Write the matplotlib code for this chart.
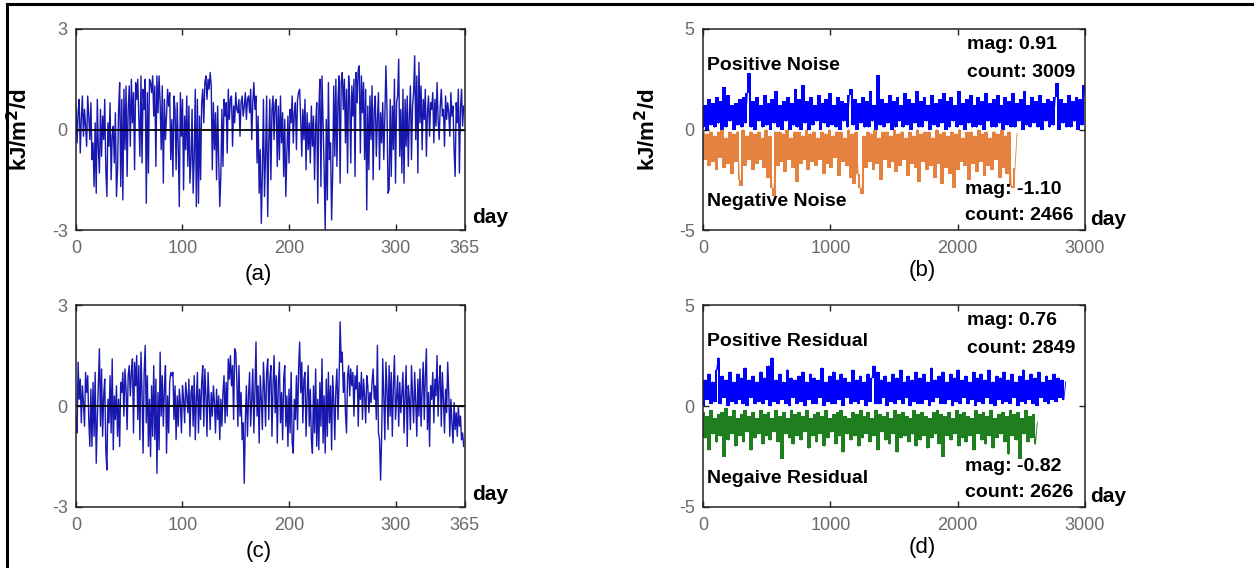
import numpy as np
import matplotlib.pyplot as plt
from matplotlib.lines import Line2D

plt.rcParams['font.family'] = ['Liberation Sans', 'DejaVu Sans']
plt.rcParams['axes.unicode_minus'] = False

# (a) daily noise, one year
noise_year = [
    0.7, -0.4, 0.5, 0.9, -0.7, 0.3, 1.0, -0.2, 0.6, 0.1,
    -0.5, 1.0, 0.4, -0.3, 0.8, -0.9, -0.4, -1.7, 0.2, -1.9,
    0.9, -0.6, -1.3, 0.6, -0.8, 0.4, -0.3, 0.9, -1.2, -2.0,
    0.2, -0.5, 0.8, -1.5, -0.2, 0.1, -1.0, 0.5, -2.0, -1.2,
    0.6, 1.4, -1.7, 0.9, -2.1, 1.2, -0.6, 1.3, -1.4, 0.6,
    1.3, -0.5, 1.5, 0.2, 1.1, -1.2, 1.4, 0.9, 1.5, 0.3,
    -0.8, 1.6, -1.0, 1.2, 0.6, 1.5, -2.2, 1.1, -1.3, 1.5,
    1.4, 1.1, 1.6, 0.4, 1.3, -1.1, 1.6, 0.5, 1.6, 0.8,
    -0.6, 1.3, -1.6, 0.9, -0.3, 0.4, 1.2, 0.7, 1.1, -0.9,
    0.3, -1.4, 1.0, 0.6, -1.2, 0.8, -0.5, -2.3, 1.1, -0.2,
    0.9, -1.8, 0.4, -0.6, 1.0, -1.1, 0.7, -1.6, -0.9, 0.6,
    -1.9, -0.8, 1.2, -2.3, 0.9, -2.2, 0.4, -1.5, 0.8, 1.2,
    0.2, 1.4, 1.6, 0.9, 1.5, 1.2, 1.7, 1.3, -1.2, 0.8,
    -0.6, 0.5, -1.5, 0.7, -0.9, -2.3, -1.4, 0.6, -1.1, 0.9,
    0.4, 0.8, -0.7, 1.2, 0.3, 0.9, 1.0, -0.5, 0.7, 0.2,
    1.1, 0.6, 0.5, 0.9, -0.2, 0.8, 1.0, 0.4, 0.7, 1.1,
    0.3, 0.9, 1.0, 0.5, 1.2, -0.3, 0.8, 1.4, 0.6, 1.0,
    -1.0, 0.4, -1.9, -0.6, -2.8, -1.3, 0.9, -2.0, -0.8, 1.0,
    -2.6, -0.4, 0.9, -1.5, 0.6, 1.0, -0.3, 0.8, 0.9, -1.1,
    0.7, -0.9, 1.0, -0.4, 0.5, -1.4, 0.3, -2.0, -0.7, 0.4,
    -1.0, 0.6, 0.2, 1.0, -0.4, 0.5, 0.8, -0.6, 0.9, 1.1,
    1.2, 0.3, -0.8, 0.6, -0.3, 0.9, -1.2, 0.5, -0.6, 0.2,
    -1.0, 0.7, -0.5, 0.4, -1.5, 0.1, 0.8, -2.2, 0.6, 1.5,
    -1.7, 1.6, 0.2, -1.2, -3.0, 0.3, -2.1, 1.4, -0.9, -0.4,
    -2.7, -1.3, 1.3, -0.8, 1.5, -1.1, 0.9, 1.6, -1.6, 1.4,
    1.7, 0.6, 1.5, -0.4, 1.2, -1.3, 1.6, 0.9, -1.0, 1.3,
    0.4, 1.5, -1.4, 1.7, 0.8, 1.8, 1.9, -0.7, 1.6, 0.5,
    1.4, -0.9, 1.2, -2.4, 0.7, -1.2, 1.0, -0.3, 1.3, -1.5,
    0.6, 1.0, -0.8, 0.3, 1.1, -1.2, 0.5, -0.4, 0.8, -0.9,
    0.4, 1.9, 0.6, -1.9, -1.8, 0.9, -1.4, 0.7, -0.6, 1.5,
    -1.6, 0.8, 1.0, 2.1, -0.8, 0.6, -1.3, 1.2, -1.6, 0.9,
    -0.5, 1.0, -1.1, 0.4, 1.3, -0.9, 0.7, 1.1, 2.2, -0.3,
    1.6, -1.3, 2.0, 0.2, 1.3, -0.6, 0.9, 0.3, 1.2, -0.8,
    0.5, 1.0, -0.2, 0.8, 0.6, 1.1, -0.4, 0.9, 0.1, 1.4,
    0.3, -0.3, 0.7, 1.2, 0.4, 0.6, -0.5, 1.0, 0.3, 0.8,
    0.5, -0.2, 1.1, 0.4, 0.7, -0.6, -1.4, 0.8, 0.2, 1.2,
    -1.3, 0.6, 1.2, 0.1, 0.7,
]

# (c) daily residual, one year
resid_year = [
    -0.3, -0.8, 1.3, 0.2, 0.8, -0.5, 0.6, 0.1, -0.6, 1.0,
    0.4, 0.9, -0.4, -1.2, 0.5, -1.2, 0.7, -0.9, 1.0, -1.7,
    -0.4, 0.6, 1.7, -0.6, 1.1, -0.9, 0.3, 0.8, -1.3, -1.9,
    0.2, -0.5, 0.9, -0.8, 1.4, -1.3, 0.3, -0.4, 0.6, -0.9,
    0.2, -1.2, 0.7, 0.4, 1.0, -0.3, 1.1, 0.5, -0.7, 0.9,
    1.2, 0.3, 1.0, 1.4, -0.8, 1.3, 0.6, 1.5, -0.4, 1.2,
    -1.0, 1.6, 0.4, -1.4, 1.0, 1.8, -0.5, 0.9, -1.2, 0.2,
    -1.5, 0.6, -0.9, 1.2, -1.0, 0.8, -2.0, 0.4, -1.3, 1.6,
    -0.3, 0.9, -0.6, 0.5, 1.2, -1.4, 0.3, -0.8, 0.7, 1.0,
    0.9, 1.0, -0.4, 0.6, -1.0, 0.3, -0.6, 0.5, 0.1, -0.8,
    0.6, 0.2, -0.5, 0.7, 0.3, -0.2, 0.8, -0.9, 0.4, 0.6,
    -0.6, 0.9, -1.0, 0.2, 1.0, -0.8, 0.5, -0.4, 0.7, 1.2,
    -0.6, 1.1, 0.3, -0.9, 1.0, 0.2, -0.7, 0.4, -0.3, 0.6,
    0.1, -0.8, 0.5, -0.4, 0.3, -1.0, 0.2, -0.6, 0.4, 0.9,
    -0.5, 0.7, -0.3, 1.4, 0.8, 1.5, 0.6, 1.2, -0.4, 1.7,
    1.6, 0.8, -0.6, 1.2, -0.3, 0.4, -1.0, -0.5, -2.3, -0.4,
    0.6, -0.9, 0.3, 1.0, -0.6, 0.2, 1.1, -0.8, 0.4, 1.9,
    -0.3, 0.6, -1.1, 0.9, 0.2, -0.7, 1.3, 0.5, -0.6, 1.0,
    1.4, -0.4, 0.8, 1.2, -0.9, 0.6, 1.5, -0.2, 0.9, -1.1,
    0.7, 1.3, -0.5, 0.4, -1.0, 0.8, 1.2, -0.6, 0.3, -1.2,
    0.5, -0.8, 1.0, -1.1, -1.4, 0.2, -0.4, 0.9, -0.7, 1.1,
    1.9, 0.4, 1.3, -0.5, 0.8, 1.0, -0.9, 0.3, 1.2, -0.6,
    0.5, -1.0, -1.4, 0.6, -0.8, 1.1, -1.2, 0.2, -1.3, 0.7,
    -0.6, 1.4, -1.1, 0.3, -1.4, 0.8, -0.9, 1.0, -0.5, 0.6,
    -1.3, 0.9, 0.2, -1.0, 0.5, 1.1, -0.4, 0.7, 2.5, 1.3,
    1.6, 0.4, 1.0, -0.2, -0.8, 0.9, 1.2, 0.3, 1.1, 0.6,
    1.0, -0.3, 0.9, 0.5, 1.2, -0.6, 0.7, 0.2, 1.0, -0.4,
    0.8, 0.3, -0.5, 0.9, 0.6, -0.2, 0.4, 0.1, 0.7, 1.1,
    0.2, 0.6, -0.4, 1.8, -0.8, -1.0, -2.2, -0.9, 1.4, 0.3,
    -1.0, 1.3, 0.5, -0.7, 1.2, -0.3, 1.0, -0.9, 0.6, 1.5,
    -0.4, 0.2, 0.9, -0.6, 0.7, -0.2, 0.4, 1.0, -0.8, 0.3,
    1.2, -1.2, 0.6, 0.2, -0.7, 1.2, 0.3, -0.5, 1.0, 0.1,
    -0.9, 0.8, -0.3, 1.1, -0.6, 0.5, 1.3, -0.4, 0.9, 1.7,
    -0.7, 0.4, -1.2, 0.6, 0.2, 1.0, -0.5, 0.8, 0.3, 1.5,
    -0.3, 0.7, 1.2, -0.6, 1.0, 0.2, -0.8, 0.5, -0.2, 1.3,
    0.4, -0.9, 0.2, -0.5, -1.1, 0.1, -0.7, -0.2, -0.9, 0.0,
    -0.6, -0.3, -1.0, -0.8, -1.2,
]

# (b) positive / negative noise (sampled along the record)
pos_noise = [
    0.1, 1.2, 0.0, 1.5, 0.2, 1.3, 0.1, 1.6, 0.3, 1.4, 0.0, 2.1, 0.1, 1.7, 0.4, 1.2, 0.0, 1.3, 0.2, 1.5,
    0.1, 1.6, 0.3, 1.8, 2.8, 0.1, 1.4, 0.0, 1.6, 0.4, 1.2, 0.1, 1.7, 0.2, 1.3, 0.0, 1.5, 0.3, 1.9, 0.1,
    1.2, 0.0, 1.4, 0.4, 1.6, 0.0, 1.3, 0.2, 2.0, 0.1, 1.5, 0.0, 2.2, 0.3, 1.4, 0.0, 1.6, 0.2, 1.2, 0.4,
    1.7, 0.0, 1.3, 0.3, 1.5, 0.1, 1.8, 0.2, 1.2, 0.1, 1.6, 0.0, 1.4, 0.4, 1.3, 0.1, 1.7, 2.0, 0.2, 1.5,
    0.0, 1.3, 0.3, 1.6, 0.1, 1.4, 0.1, 1.9, 0.4, 1.2, 0.0, 2.7, 0.2, 1.5, 0.1, 1.3, 0.3, 1.7, 0.0, 1.4,
    0.1, 1.6, 0.4, 1.2, 0.1, 1.8, 0.2, 1.5, 0.0, 1.3, 0.3, 1.9, 0.1, 1.4, 0.1, 1.6, 0.4, 1.2, 0.0, 1.7,
    0.2, 1.3, 0.1, 1.5, 0.3, 1.8, 0.0, 1.4, 0.1, 1.6, 0.4, 1.2, 0.1, 1.9, 0.2, 1.3, 0.0, 1.5, 0.3, 1.7,
    0.1, 1.2, 0.1, 1.6, 0.2, 1.4, 0.0, 1.8, 0.4, 1.3, 0.1, 1.5, 0.1, 1.7, 0.3, 1.2, 0.0, 1.6, 0.2, 1.4,
    0.1, 1.8, 0.1, 1.3, 0.4, 1.5, 0.0, 1.9, 0.2, 1.2, 0.1, 1.6, 0.3, 1.4, 0.1, 1.7, 0.0, 1.3, 0.4, 1.5,
    0.1, 1.4, 0.2, 1.6, 2.3, 0.0, 1.5, 0.3, 1.3, 0.1, 1.7, 0.1, 1.4, 0.4, 1.6, 0.0, 1.5, 0.2, 2.2, 1.3,
]
neg_noise = [
    -0.1, -1.5, -0.2, -1.8, -0.1, -1.6, -0.3, -2.0, -0.1, -1.4, -0.0, -1.9, -0.4, -1.7, -0.1, -2.2, -0.2, -1.6, -0.1, -2.5,
    -2.8, -0.0, -1.8, -0.3, -1.5, -0.1, -2.0, -0.2, -1.7, -0.1, -1.5, -0.4, -1.9, -0.0, -2.4, -0.3, -2.9, -3.3, -0.1, -1.8,
    -0.1, -1.6, -0.2, -2.1, -0.0, -1.5, -0.4, -1.9, -0.1, -2.6, -0.1, -1.7, -0.3, -1.5, -0.0, -2.0, -0.2, -1.6, -0.1, -1.8,
    -0.4, -1.5, -0.1, -2.2, -0.2, -1.7, -0.0, -1.9, -0.3, -1.4, -0.1, -2.3, -0.1, -1.6, -0.4, -1.8, -0.0, -2.4, -0.2, -2.7,
    -0.1, -2.2, -2.9, -3.2, -0.3, -1.9, -0.1, -1.6, -0.2, -2.0, -0.0, -1.7, -0.4, -2.5, -0.1, -1.5, -0.1, -1.9, -0.3, -1.6,
    -0.0, -2.1, -0.2, -1.8, -0.1, -1.5, -0.4, -2.3, -0.1, -1.7, -0.3, -1.9, -0.0, -2.6, -0.2, -1.6, -0.1, -2.0, -0.1, -1.8,
    -0.4, -2.4, -0.0, -1.7, -0.2, -2.7, -0.1, -1.9, -0.3, -2.2, -0.1, -2.9, -0.2, -2.0, -0.0, -1.6, -0.4, -1.8, -0.1, -2.5,
    -0.1, -1.7, -0.3, -2.1, -0.0, -1.6, -0.2, -2.3, -0.1, -1.8, -0.4, -2.0, -0.1, -1.5, -0.2, -2.4, -0.0, -1.9, -0.3, -2.2,
    -0.1, -2.8, -2.9, -1.9, -0.2,
]

# (d) positive / negative residual (sampled along the record)
pos_resid = [
    0.0, 1.3, 0.3, 1.6, 0.1, 1.2, 0.2, 1.8, 2.4, 0.1, 1.5, 0.4, 1.3, 0.0, 1.7, 0.2, 1.2, 0.1, 1.6, 0.3,
    1.4, 0.1, 1.9, 0.0, 1.3, 0.4, 1.5, 0.1, 1.2, 0.2, 1.7, 0.1, 1.4, 0.3, 2.0, 0.0, 2.4, 0.2, 1.3, 0.1,
    1.6, 0.3, 1.2, 0.1, 1.8, 0.0, 1.4, 0.4, 1.3, 0.1, 1.5, 0.2, 1.7, 0.0, 1.2, 0.3, 1.6, 0.1, 1.4, 0.1,
    1.3, 0.4, 1.9, 0.0, 1.2, 0.2, 1.5, 0.1, 1.7, 0.1, 1.3, 0.3, 1.6, 0.0, 1.4, 0.4, 1.2, 0.1, 1.8, 0.2,
    1.3, 0.1, 1.5, 0.3, 1.2, 0.0, 1.6, 0.2, 1.4, 2.0, 0.1, 1.7, 0.1, 1.3, 0.4, 1.5, 0.0, 1.2, 0.2, 1.6,
    0.1, 1.4, 0.3, 1.8, 0.1, 1.2, 0.4, 1.5, 0.0, 1.3, 0.2, 1.7, 0.1, 1.4, 0.1, 1.6, 0.3, 1.2, 0.0, 1.9,
    0.2, 1.3, 0.4, 1.5, 0.1, 1.7, 0.1, 1.2, 0.3, 1.6, 0.0, 1.4, 0.2, 1.8, 0.1, 1.3, 0.4, 1.5, 0.1, 1.2,
    0.3, 1.7, 0.0, 1.4, 0.2, 1.6, 0.1, 1.3, 0.4, 1.8, 0.1, 1.2, 0.0, 1.5, 0.3, 1.4, 0.1, 1.7, 0.2, 1.3,
    0.1, 1.6, 0.4, 1.2, 0.0, 1.5, 0.2, 1.8, 0.1, 1.3, 0.3, 1.6, 0.1, 1.4, 0.0, 1.7, 0.4, 1.2, 0.2, 1.5,
    0.1, 1.3, 0.3, 1.6, 0.2, 1.4, 0.4, 1.3, 0.3, 1.2,
]
neg_resid = [
    -0.3, -1.6, -0.5, -2.2, -0.2, -1.4, -0.6, -1.8, -0.4, -1.5, -0.3, -2.5, -0.1, -1.7, -0.5, -1.4, -0.2, -2.0, -0.6, -1.5,
    -0.4, -1.8, -0.2, -1.3, -0.5, -2.2, -0.3, -1.6, -0.6, -1.4, -0.2, -1.9, -0.4, -1.5, -0.3, -1.7, -0.6, -1.3, -0.2, -1.8,
    -0.5, -2.6, -0.3, -1.4, -0.6, -1.6, -0.2, -1.9, -0.4, -1.5, -0.3, -1.7, -0.5, -1.3, -0.2, -2.1, -0.6, -1.5, -0.4, -1.8,
    -0.3, -1.4, -0.5, -2.0, -0.2, -1.6, -0.6, -1.3, -0.4, -1.9, -0.3, -1.5, -0.2, -2.3, -0.5, -1.4, -0.6, -1.7, -0.3, -1.5,
    -0.4, -2.0, -0.2, -1.6, -0.5, -1.4, -0.3, -1.8, -0.6, -1.5, -0.2, -2.2, -0.4, -1.3, -0.5, -1.7, -0.3, -1.9, -0.6, -1.4,
    -0.2, -2.3, -0.4, -1.6, -0.3, -1.5, -0.5, -1.8, -0.6, -1.4, -0.2, -2.0, -0.4, -1.7, -0.3, -1.5, -0.5, -2.1, -0.6, -1.6,
    -0.3, -1.4, -0.2, -1.9, -0.4, -2.5, -0.5, -1.5, -0.3, -1.7, -0.6, -1.4, -0.2, -2.0, -0.4, -1.6, -0.3, -1.8, -0.5, -1.5,
    -0.6, -2.2, -0.2, -1.4, -0.4, -1.7, -0.3, -1.9, -0.5, -1.5, -0.2, -2.1, -0.6, -1.6, -0.4, -1.4, -0.3, -1.8, -0.5, -2.4,
    -0.2, -1.5, -0.4, -1.7, -0.3, -2.6, -0.6, -1.4, -0.2, -1.8, -0.5, -1.6, -0.4, -1.9, -0.8,
]

counts_b = [3009, 2466]
mags_b = [0.91, -1.10]
counts_d = [2849, 2626]
mags_d = [0.76, -0.82]

year_ticks = [0, 100, 200, 300, 365]
long_ticks = [0, 1000, 2000, 3000]

LINE_BLUE = '#1818b0'
BAND_BLUE = '#0000ff'
ORANGE = '#e5823f'
GREEN = '#1f7f1f'
TICK_GRAY = '#6a6a6a'


def style_axes(ax, xlim, xticks, ylim, yticks):
    ax.set_xlim(xlim)
    ax.set_ylim(ylim)
    ax.set_xticks(xticks)
    ax.set_yticks(yticks)
    ax.tick_params(direction='in', top=True, right=True, length=4, width=1,
                   color='#222222', labelcolor=TICK_GRAY, labelsize=13)
    ax.tick_params(axis='x', pad=7)
    ax.tick_params(axis='y', pad=6)
    for sp in ax.spines.values():
        sp.set_linewidth(1.1)
        sp.set_color('#222222')


def draw_band(ax, x, vals, color):
    # a dense series looks like a solid band: fill between neighbouring values,
    # then the series itself on top for the spiky edge
    v = np.asarray(vals)
    lo = np.minimum(v[:-1], v[1:])
    hi = np.maximum(v[:-1], v[1:])
    ax.fill_between(x[:-1], lo, hi, step='post', color=color, lw=0)
    ax.plot(x, v, color=color, lw=0.6)


fig = plt.figure(figsize=(12.54, 5.68), dpi=100)

ax_a = fig.add_axes([0.0606, 0.595, 0.310, 0.354])
ax_b = fig.add_axes([0.5606, 0.595, 0.3046, 0.354])
ax_c = fig.add_axes([0.0606, 0.1074, 0.310, 0.3556])
ax_d = fig.add_axes([0.5606, 0.1074, 0.3046, 0.3556])

# (a) and (c): one-year series
for ax, vals, lab in [(ax_a, noise_year, '(a)'), (ax_c, resid_year, '(c)')]:
    days = np.arange(len(vals))
    ax.plot(days, vals, color=LINE_BLUE, lw=1.0)
    ax.axhline(0, color='black', lw=1.3)
    style_axes(ax, (0, 365), year_ticks, (-3, 3), [-3, 0, 3])
    ax.text(1.02, 0.06, 'day', transform=ax.transAxes, fontsize=15,
            fontweight='bold', ha='left', va='center')
    ax.text(0.47, -0.22, lab, transform=ax.transAxes, fontsize=16,
            ha='center', va='center')

ax_a.set_ylabel('kJ/m$^\\mathbf{2}$/d', fontsize=16, fontweight='bold')
ax_a.yaxis.set_label_coords(-0.113, 0.5)

# (b) and (d): positive / negative parts over the whole record
panels = [
    (ax_b, pos_noise, neg_noise, counts_b, mags_b, ORANGE,
     'Positive Noise', 'Negative Noise', '(b)'),
    (ax_d, pos_resid, neg_resid, counts_d, mags_d, GREEN,
     'Positive Residual', 'Negaive Residual', '(d)'),
]
for ax, pos, neg, cnt, mag, ncol, ptxt, ntxt, lab in panels:
    xp = np.linspace(1, cnt[0], len(pos))
    xn = np.linspace(1, cnt[1], len(neg))
    draw_band(ax, xp, pos, BAND_BLUE)
    draw_band(ax, xn, neg, ncol)
    style_axes(ax, (0, 3000), long_ticks, (-5, 5), [-5, 0, 5])
    ax.text(1.013, 0.05, 'day', transform=ax.transAxes, fontsize=15,
            fontweight='bold', ha='left', va='center')
    ax.text(0.573, -0.2, lab, transform=ax.transAxes, fontsize=16,
            ha='center', va='center')
    ax.text(30, 3.2, ptxt, fontsize=14, fontweight='bold', va='center')
    ax.text(30, -3.6, ntxt, fontsize=14, fontweight='bold', va='center')
    ax.text(2070, 4.25, 'mag: %.2f' % mag[0], fontsize=14, fontweight='bold', va='center')
    ax.text(2070, 2.85, 'count: %d' % cnt[0], fontsize=14, fontweight='bold', va='center')
    ax.text(2060, -3.0, 'mag: %.2f' % mag[1], fontsize=14, fontweight='bold', va='center')
    ax.text(2060, -4.3, 'count: %d' % cnt[1], fontsize=14, fontweight='bold', va='center')

ax_b.set_ylabel('kJ/m$^\\mathbf{2}$/d', fontsize=16, fontweight='bold')
ax_b.yaxis.set_label_coords(-0.113, 0.5)

# outer frame (top and left edges)
fig.add_artist(Line2D([0.0056, 1.0], [0.9935, 0.9935], color='black', lw=2.2))
fig.add_artist(Line2D([0.0056, 0.0056], [0.0, 0.9935], color='black', lw=2.2))

fig.savefig('out.png', dpi=100)
